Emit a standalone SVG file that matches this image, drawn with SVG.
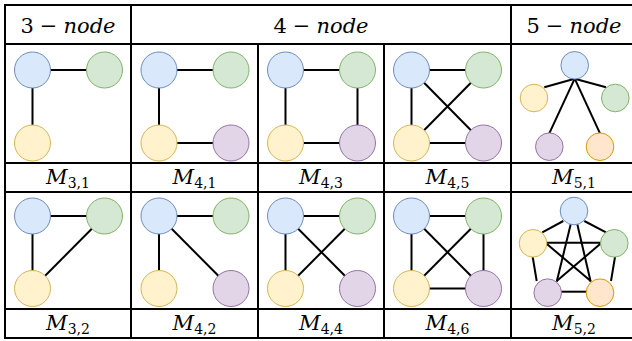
<svg xmlns="http://www.w3.org/2000/svg" width="632" height="341" viewBox="0 0 632 341">
<style>
.grid{stroke:#000;stroke-width:2;fill:none}
.e{stroke:#000;stroke-width:2;fill:none}
.b{fill:#dae8fc;stroke:#6c8ebf;stroke-width:1}
.g{fill:#d5e8d4;stroke:#82b366;stroke-width:1}
.y{fill:#fff2cc;stroke:#d6b656;stroke-width:1}
.p{fill:#e1d5e7;stroke:#9673a6;stroke-width:1}
.o{fill:#ffe6cc;stroke:#d79b00;stroke-width:1}
text{font-family:'DejaVu Serif',serif;fill:#000}
.hdr{font-size:21px}
.lbl{font-size:21px}
.it{font-style:italic}
.sub{font-size:14px;font-style:normal}
</style>
<rect width="632" height="341" fill="#fff"/>
<g id="grid">
<rect class="grid" x="5" y="5" width="640" height="333"/>
<line class="grid" x1="5" y1="44" x2="640" y2="44"/>
<line class="grid" x1="5" y1="163" x2="640" y2="163"/>
<line class="grid" x1="5" y1="192" x2="640" y2="192"/>
<line class="grid" x1="5" y1="309" x2="640" y2="309"/>
<line class="grid" x1="131" y1="5" x2="131" y2="338"/>
<line class="grid" x1="258" y1="44" x2="258" y2="338"/>
<line class="grid" x1="384" y1="44" x2="384" y2="338"/>
<line class="grid" x1="511" y1="5" x2="511" y2="338"/>
</g>
<g id="headers">
<text class="hdr" x="68" y="33" text-anchor="middle">3<tspan dx="6">−</tspan><tspan dx="6" class="it">node</tspan></text>
<text class="hdr" x="321" y="33" text-anchor="middle">4<tspan dx="6">−</tspan><tspan dx="6" class="it">node</tspan></text>
<text class="hdr" x="574" y="33" text-anchor="middle">5<tspan dx="6">−</tspan><tspan dx="6" class="it">node</tspan></text>
</g>
<g id="labels">
<text class="lbl it" x="68" y="184" text-anchor="middle">M<tspan class="sub" dy="4">3,1</tspan></text>
<text class="lbl it" x="194.5" y="184" text-anchor="middle">M<tspan class="sub" dy="4">4,1</tspan></text>
<text class="lbl it" x="321" y="184" text-anchor="middle">M<tspan class="sub" dy="4">4,3</tspan></text>
<text class="lbl it" x="447.5" y="184" text-anchor="middle">M<tspan class="sub" dy="4">4,5</tspan></text>
<text class="lbl it" x="574" y="184" text-anchor="middle">M<tspan class="sub" dy="4">5,1</tspan></text>
<text class="lbl it" x="68" y="330" text-anchor="middle">M<tspan class="sub" dy="4">3,2</tspan></text>
<text class="lbl it" x="194.5" y="330" text-anchor="middle">M<tspan class="sub" dy="4">4,2</tspan></text>
<text class="lbl it" x="321" y="330" text-anchor="middle">M<tspan class="sub" dy="4">4,4</tspan></text>
<text class="lbl it" x="447.5" y="330" text-anchor="middle">M<tspan class="sub" dy="4">4,6</tspan></text>
<text class="lbl it" x="574" y="330" text-anchor="middle">M<tspan class="sub" dy="4">5,2</tspan></text>
</g>
<g id="connectors">
<line class="e" x1="32.5" y1="70" x2="104.5" y2="70"/>
<line class="e" x1="32.5" y1="70" x2="32.5" y2="143"/>
<line class="e" x1="159" y1="70" x2="231" y2="70"/>
<line class="e" x1="159" y1="70" x2="159" y2="143"/>
<line class="e" x1="159" y1="143" x2="231" y2="143"/>
<line class="e" x1="285.5" y1="70" x2="357.5" y2="70"/>
<line class="e" x1="285.5" y1="70" x2="285.5" y2="143"/>
<line class="e" x1="357.5" y1="70" x2="357.5" y2="143"/>
<line class="e" x1="285.5" y1="143" x2="357.5" y2="143"/>
<line class="e" x1="411.5" y1="70" x2="483.5" y2="70"/>
<line class="e" x1="411.5" y1="70" x2="411.5" y2="143"/>
<line class="e" x1="411.5" y1="143" x2="483.5" y2="143"/>
<line class="e" x1="411.5" y1="70" x2="483.5" y2="143"/>
<line class="e" x1="411.5" y1="143" x2="483.5" y2="70"/>
<line class="e" x1="574.7" y1="78.7" x2="544.3" y2="87.3"/>
<line class="e" x1="574.7" y1="78.7" x2="606" y2="87.3"/>
<line class="e" x1="574.7" y1="78.7" x2="549.3" y2="133.3"/>
<line class="e" x1="574.7" y1="78.7" x2="600" y2="133.3"/>
<line class="e" x1="32.5" y1="216" x2="104.5" y2="216"/>
<line class="e" x1="32.5" y1="216" x2="32.5" y2="288.5"/>
<line class="e" x1="32.5" y1="288.5" x2="104.5" y2="216"/>
<line class="e" x1="159" y1="216" x2="231" y2="216"/>
<line class="e" x1="159" y1="216" x2="159" y2="288.5"/>
<line class="e" x1="159" y1="216" x2="231" y2="288.5"/>
<line class="e" x1="285.5" y1="216" x2="357.5" y2="216"/>
<line class="e" x1="285.5" y1="216" x2="285.5" y2="288.5"/>
<line class="e" x1="285.5" y1="216" x2="357.5" y2="288.5"/>
<line class="e" x1="285.5" y1="288.5" x2="357.5" y2="216"/>
<line class="e" x1="411.5" y1="216" x2="483.5" y2="216"/>
<line class="e" x1="411.5" y1="216" x2="411.5" y2="288.5"/>
<line class="e" x1="483.5" y1="216" x2="483.5" y2="288.5"/>
<line class="e" x1="411.5" y1="288.5" x2="483.5" y2="288.5"/>
<line class="e" x1="411.5" y1="216" x2="483.5" y2="288.5"/>
<line class="e" x1="411.5" y1="288.5" x2="483.5" y2="216"/>
<line class="e" x1="563.3" y1="221" x2="542.3" y2="232.3"/>
<line class="e" x1="584.3" y1="221" x2="606" y2="232.3"/>
<line class="e" x1="546" y1="242.7" x2="601" y2="242.7"/>
<line class="e" x1="532.7" y1="257" x2="536.7" y2="281"/>
<line class="e" x1="615" y1="257" x2="611" y2="281"/>
<line class="e" x1="561" y1="291.7" x2="586" y2="291.7"/>
<line class="e" x1="570.7" y1="224.3" x2="556.7" y2="281.7"/>
<line class="e" x1="577.3" y1="224.3" x2="590.7" y2="281.7"/>
<line class="e" x1="546" y1="243.3" x2="590.7" y2="281"/>
<line class="e" x1="601" y1="243.3" x2="556.7" y2="281"/>
</g>
<g id="M31_nodes">
<circle class="b" cx="32.5" cy="70" r="18"/>
<circle class="g" cx="104.5" cy="70" r="18"/>
<circle class="y" cx="32.5" cy="143" r="18"/>
</g>
<g id="M41_nodes">
<circle class="b" cx="159" cy="70" r="18"/>
<circle class="g" cx="231" cy="70" r="18"/>
<circle class="y" cx="159" cy="143" r="18"/>
<circle class="p" cx="231" cy="143" r="18"/>
</g>
<g id="M43_nodes">
<circle class="b" cx="285.5" cy="70" r="18"/>
<circle class="g" cx="357.5" cy="70" r="18"/>
<circle class="y" cx="285.5" cy="143" r="18"/>
<circle class="p" cx="357.5" cy="143" r="18"/>
</g>
<g id="M45_nodes">
<circle class="b" cx="411.5" cy="70" r="18"/>
<circle class="g" cx="483.5" cy="70" r="18"/>
<circle class="y" cx="411.5" cy="143" r="18"/>
<circle class="p" cx="483.5" cy="143" r="18"/>
</g>
<g id="M51_nodes">
<circle class="b" cx="574.7" cy="65.3" r="13.8"/>
<circle class="y" cx="534" cy="98" r="13.8"/>
<circle class="g" cx="615.3" cy="98" r="13.8"/>
<circle class="p" cx="549.3" cy="146.7" r="13.8"/>
<circle class="o" cx="600" cy="146.7" r="13.8"/>
</g>
<g id="M32_nodes">
<circle class="b" cx="32.5" cy="216" r="18"/>
<circle class="g" cx="104.5" cy="216" r="18"/>
<circle class="y" cx="32.5" cy="288.5" r="18"/>
</g>
<g id="M42_nodes">
<circle class="b" cx="159" cy="216" r="18"/>
<circle class="g" cx="231" cy="216" r="18"/>
<circle class="y" cx="159" cy="288.5" r="18"/>
<circle class="p" cx="231" cy="288.5" r="18"/>
</g>
<g id="M44_nodes">
<circle class="b" cx="285.5" cy="216" r="18"/>
<circle class="g" cx="357.5" cy="216" r="18"/>
<circle class="y" cx="285.5" cy="288.5" r="18"/>
<circle class="p" cx="357.5" cy="288.5" r="18"/>
</g>
<g id="M46_nodes">
<circle class="b" cx="411.5" cy="216" r="18"/>
<circle class="g" cx="483.5" cy="216" r="18"/>
<circle class="y" cx="411.5" cy="288.5" r="18"/>
<circle class="p" cx="483.5" cy="288.5" r="18"/>
</g>
<g id="M52_nodes">
<circle class="b" cx="574" cy="211" r="13.8"/>
<circle class="y" cx="533" cy="243.3" r="13.8"/>
<circle class="g" cx="614.3" cy="243.3" r="13.8"/>
<circle class="p" cx="547.7" cy="292.7" r="13.8"/>
<circle class="o" cx="600" cy="292.7" r="13.8"/>
</g>
</svg>
